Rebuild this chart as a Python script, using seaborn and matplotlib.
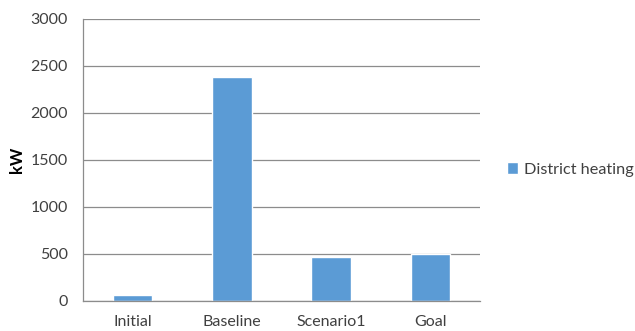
import matplotlib
matplotlib.use("Agg")
import matplotlib.pyplot as plt
import seaborn as sns
import pandas as pd
import numpy as np

# Heating demand per case
categories = ["Initial", "Baseline", "Scenario1", "Goal"]
district_heating = [55, 2380, 468, 500]
series_name = "District heating"
y_ticks = [0, 500, 1000, 1500, 2000, 2500, 3000]

df = pd.DataFrame({"case": categories, "kW": district_heating, "series": series_name})

sns.set_theme(style="white")
plt.rcParams["font.family"] = ["Lato", "DejaVu Sans"]

grid_c = "#8c8c8c"
bar_c = "#5b9bd5"

fig = plt.figure(figsize=(6.35, 3.31), dpi=100)
ax = fig.add_axes([83 / 635, 1 - 300.5 / 331, (480 - 83) / 635, (300.5 - 18.7) / 331])

sns.barplot(data=df, x="case", y="kW", hue="series", palette=[bar_c],
            width=0.4, ax=ax, saturation=1, legend=True)

ax.set_ylim(0, 3000)
ax.set_xlim(-0.5, len(categories) - 0.5)
ax.set_yticks(y_ticks)
ax.set_yticklabels([str(v) for v in y_ticks], fontsize=11.5, color="#404040")
ax.set_xticks(range(len(categories)))
ax.set_xticklabels(categories, fontsize=11.5, color="#404040")
ax.tick_params(axis="x", which="major", length=0, pad=10.5)
ax.set_xticks(np.arange(-0.5, len(categories) + 0.5, 1), minor=True)
ax.tick_params(axis="x", which="minor", length=5, width=0.8, color=grid_c, direction="out")
ax.tick_params(axis="y", length=5, width=0.8, color=grid_c, direction="out", pad=6)

ax.yaxis.grid(True, color=grid_c, linewidth=0.9)
ax.set_axisbelow(True)
for side in ["top", "right"]:
    ax.spines[side].set_visible(False)
for side in ["left", "bottom"]:
    ax.spines[side].set_color(grid_c)
    ax.spines[side].set_linewidth(0.9)

ax.set_xlabel("")
ax.set_ylabel("kW", fontsize=12, fontweight="bold", color="#000000", labelpad=4)

leg = ax.legend(loc="center left", bbox_to_anchor=(1.043, 0.465), frameon=False,
                fontsize=11.7, handlelength=0.7, handleheight=0.7, handletextpad=0.35,
                borderaxespad=0.2)
for t in leg.get_texts():
    t.set_color("#404040")

fig.savefig("out.png", dpi=100)
